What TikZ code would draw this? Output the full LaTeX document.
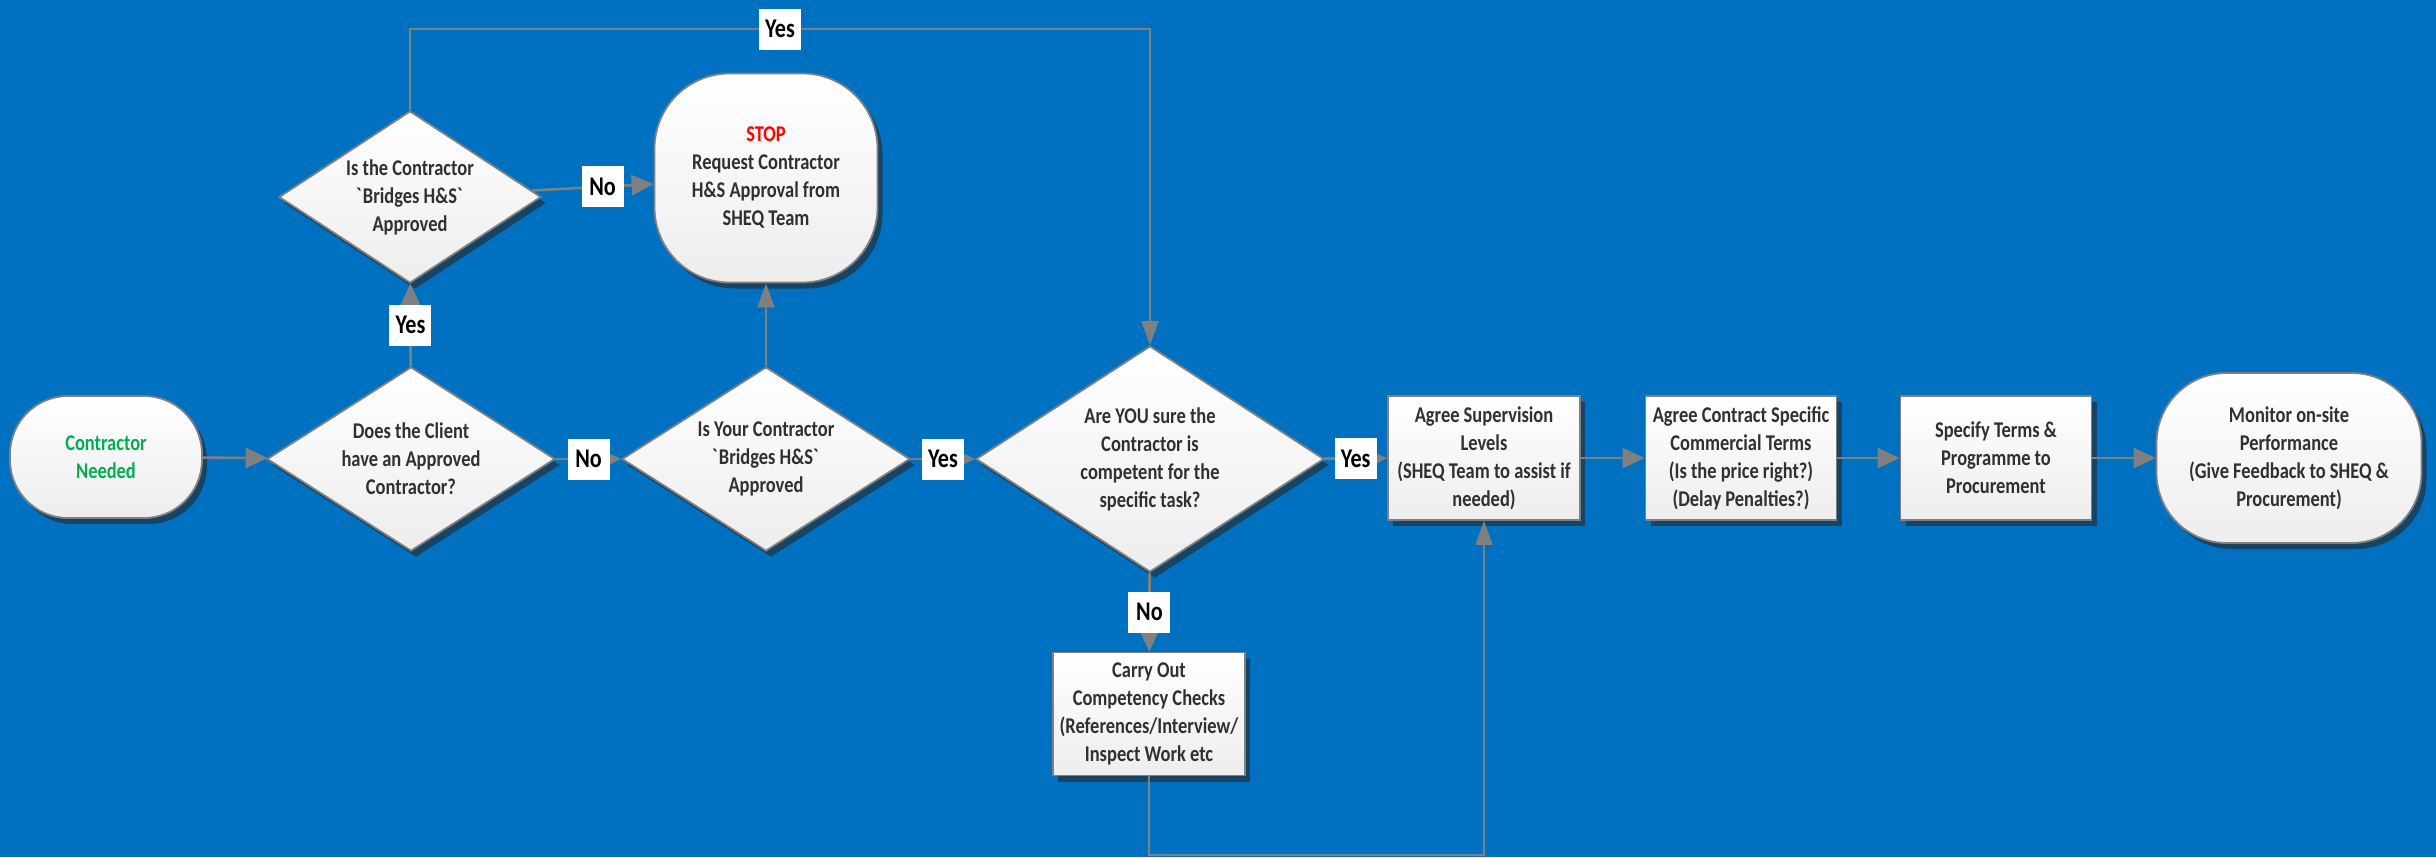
\documentclass[tikz,border=0pt]{standalone}
\usepackage{fontspec}
\setmainfont{Carlito}[FakeStretch=0.82]
\usepackage{xcolor}
\usepackage{tikz}
\usetikzlibrary{arrows.meta,shapes.geometric,shadows}
\definecolor{bgBlue}{RGB}{0,113,193}
\definecolor{lnGray}{RGB}{128,128,128}
\definecolor{txtGray}{RGB}{48,48,48}
\definecolor{okGreen}{RGB}{0,176,80}
\definecolor{stopRed}{RGB}{255,0,0}
\newcommand{\grv}{\textasciigrave}

\begin{document}
\begin{tikzpicture}[x=1pt,y=-1pt,
    box/.style={draw=lnGray,line width=1.8pt,top color=white,middle color=white,bottom color=black!7,
        drop shadow={shadow xshift=5pt,shadow yshift=-6pt,fill=black!85,opacity=0.6},
        font=\bfseries\fontsize{22.5}{28}\selectfont,text=txtGray,align=center,inner sep=0pt},
    proc/.style={box,rectangle,minimum width=192pt,minimum height=124pt},
    term/.style={box,rectangle,rounded corners=#1},
    decide/.style={box,diamond,inner sep=-20pt},
    flow/.style={draw=lnGray,line width=2.6pt,-{Triangle[length=22pt,width=20pt]}},
    loopline/.style={draw=lnGray,line width=1.8pt,-{Triangle[length=24pt,width=17pt]}},
    lbl/.style={fill=white,text=black,font=\bfseries\fontsize{27}{28}\selectfont,
        minimum width=42pt,minimum height=41pt,inner sep=0pt}]

    \fill[bgBlue] (0,0) rectangle (2436,857);
    \useasboundingbox (0,0) rectangle (2436,857);

    \node[term=58pt,minimum width=192pt,minimum height=122pt,text=okGreen] (start) at (106,457) {Contractor\\Needed};
    \node[decide,aspect=1.57,minimum width=288pt,minimum height=184pt] (client) at (411,459) {Does the Client\\have an Approved\\Contractor?};
    \node[decide,aspect=1.52,minimum width=262pt,minimum height=172pt] (bridges) at (410,197) {Is the Contractor\\\grv Bridges H\&S\grv\\Approved};
    \node[term=75pt,minimum width=223pt,minimum height=209pt] (stop) at (766,178) {\textcolor{stopRed}{STOP}\\Request Contractor\\H\&S Approval from\\SHEQ Team};
    \node[decide,aspect=1.57,minimum width=288pt,minimum height=184pt] (yours) at (766,459) {Is Your Contractor\\\grv Bridges H\&S\grv\\Approved};
    \node[decide,aspect=1.54,minimum width=348pt,minimum height=226pt] (sure) at (1150,459) {Are YOU sure the\\Contractor is\\competent for the\\specific task?};
    \node[proc] (superv) at (1484,458) {Agree Supervision\\Levels\\(SHEQ Team to assist if\\needed)};
    \node[proc,minimum width=191pt] (terms) at (1741,458) {Agree Contract Specific\\Commercial Terms\\(Is the price right?)\\(Delay Penalties?)};
    \node[proc,minimum width=191pt] (specify) at (1996,458) {Specify Terms \&\\Programme to\\Procurement};
    \node[term=70pt,minimum width=265pt,minimum height=170pt] (monitor) at (2289,458) {Monitor on-site\\Performance\\(Give Feedback to SHEQ \&\\Procurement)};
    \node[proc,minimum height=123pt] (checks) at (1149,714) {Carry Out\\Competency Checks\\(References/Interview/\\Inspect Work etc};

    \coordinate (topln) at (780,29);
    \coordinate (botln) at (1316,855);

    \draw[flow] (start) -- (client);
    \draw[flow] (client) -- node[lbl]{No} (yours);
    \draw[flow] (yours) -- node[lbl]{Yes} (sure);
    \draw[flow] (sure) -- node[lbl]{Yes} (superv);
    \draw[flow] (superv) -- (terms);
    \draw[flow] (terms) -- (specify);
    \draw[flow] (specify) -- (monitor);
    \draw[flow] (client) -- node[lbl]{Yes} (bridges);
    \draw[flow] (bridges) -- node[lbl,pos=0.58]{No} (stop);
    \draw[loopline] (yours) -- (stop);
    \draw[loopline] (bridges.north) |- (topln) node[lbl]{Yes} -| (sure.north);
    \draw[flow] (sure) -- node[lbl]{No} (checks);
    \draw[loopline] (checks.south) |- (botln) -| (superv.south);
\end{tikzpicture}
\end{document}
